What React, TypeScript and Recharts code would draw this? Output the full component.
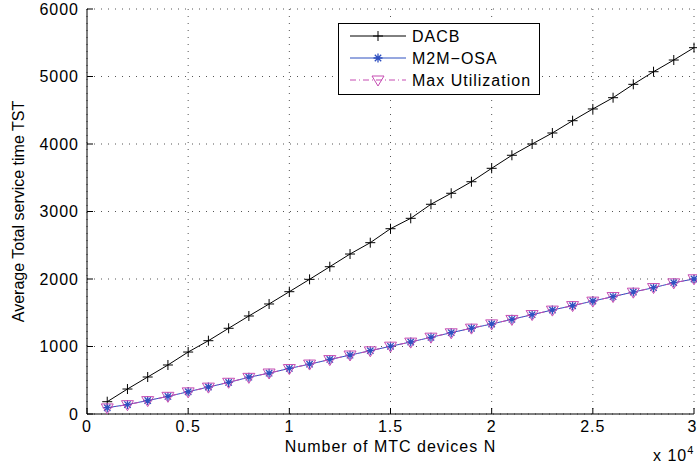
import { LineChart, Line, XAxis, YAxis, CartesianGrid, Legend, Label } from "recharts";

// number of MTC devices, in units of 10^4
const deviceCount = [
  0.1, 0.2, 0.3, 0.4, 0.5, 0.6, 0.7, 0.8, 0.9, 1.0,
  1.1, 1.2, 1.3, 1.4, 1.5, 1.6, 1.7, 1.8, 1.9, 2.0,
  2.1, 2.2, 2.3, 2.4, 2.5, 2.6, 2.7, 2.8, 2.9, 3.0,
];

const dacb = [
  182, 370, 548, 726, 918, 1086, 1270, 1452, 1630, 1812,
  1995, 2182, 2370, 2538, 2745, 2899, 3107, 3270, 3441, 3640,
  3833, 4000, 4163, 4345, 4519, 4686, 4884, 5071, 5244, 5427,
];

const m2mOsa = [
  93, 140, 200, 260, 330, 400, 468, 545, 605, 675,
  738, 808, 872, 938, 1003, 1067, 1136, 1205, 1270, 1333,
  1403, 1471, 1541, 1604, 1674, 1738, 1807, 1871, 1945, 2000,
];

const maxUtilization = [
  90, 138, 198, 262, 328, 398, 470, 543, 607, 673,
  740, 806, 874, 936, 1005, 1065, 1138, 1203, 1272, 1335,
  1401, 1473, 1539, 1606, 1672, 1740, 1805, 1873, 1943, 2003,
];

const xTicks = [0, 0.5, 1, 1.5, 2, 2.5, 3];
const yTicks = [0, 1000, 2000, 3000, 4000, 5000, 6000];

const data = deviceCount.map((n, i) => ({
  n,
  dacb: dacb[i],
  m2m: m2mOsa[i],
  maxUtil: maxUtilization[i],
}));

const BLUE = "#2f50c0";
const MAGENTA = "#c64cb2";

type MarkProps = { cx: number; cy: number; color: string };

const PlusMark = ({ cx, cy, color }: MarkProps) => (
  <path
    d={`M${cx - 5},${cy}H${cx + 5}M${cx},${cy - 5}V${cy + 5}`}
    stroke={color}
    strokeWidth={1}
    fill="none"
  />
);

const StarMark = ({ cx, cy, color }: MarkProps) => (
  <path
    d={`M${cx - 4.5},${cy}H${cx + 4.5}M${cx},${cy - 4.5}V${cy + 4.5}` +
      `M${cx - 3.2},${cy - 3.2}L${cx + 3.2},${cy + 3.2}M${cx - 3.2},${cy + 3.2}L${cx + 3.2},${cy - 3.2}`}
    stroke={color}
    strokeWidth={1.3}
    fill="none"
  />
);

const TriangleMark = ({ cx, cy, color }: MarkProps) => (
  <path
    d={`M${cx - 6},${cy - 4}L${cx + 6},${cy - 4}L${cx},${cy + 6}Z`}
    stroke={color}
    strokeWidth={1}
    fill="none"
  />
);

const series = [
  { key: "dacb", label: "DACB", color: "#000", dash: undefined, Mark: PlusMark },
  { key: "m2m", label: "M2M\u2212OSA", color: BLUE, dash: undefined, Mark: StarMark },
  { key: "maxUtil", label: "Max Utilization", color: MAGENTA, dash: "6 3 1 3", Mark: TriangleMark },
];

const LegendBox = () => (
  <svg width={202} height={72} style={{ display: "block" }}>
    <rect x={0.5} y={0.5} width={201} height={71} fill="#fff" stroke="#000" />
    {series.map((s, i) => {
      const cy = 13 + i * 22;
      const M = s.Mark;
      return (
        <g key={s.key}>
          <line x1={12} x2={68} y1={cy} y2={cy} stroke={s.color} strokeDasharray={s.dash} />
          <M cx={40} cy={cy} color={s.color} />
          <text x={74} y={cy + 6} fontSize={16} fill="#000">
            {s.label}
          </text>
        </g>
      );
    })}
  </svg>
);

const ExponentLabel = (props: any) => {
  const vb = props.viewBox || { x: 87, y: 414, width: 607, height: 52 };
  return (
    <text x={vb.x + vb.width - 41} y={vb.y + 47} fontSize={16} fill="#000">
      x 10
      <tspan dy={-7} fontSize={11}>4</tspan>
    </text>
  );
};

export default function App() {
  return (
    <div
      style={{
        position: "absolute",
        left: 0,
        top: 0,
        background: "#fff",
        fontFamily: "'Liberation Sans', Arial, sans-serif",
        letterSpacing: "1px",
      }}
    >
      <LineChart
        width={697}
        height={466}
        data={data}
        margin={{ top: 9, right: 3, bottom: 0, left: 0 }}
      >
        <CartesianGrid stroke="#555" strokeDasharray="1 6" />
        <XAxis
          dataKey="n"
          type="number"
          domain={[0, 3]}
          ticks={xTicks}
          height={52}
          tickSize={-6}
          tickMargin={13}
          axisLine={{ stroke: "#000" }}
          tickLine={{ stroke: "#000" }}
          tick={{ fill: "#000", fontSize: 16 }}
        >
          <Label value="Number of MTC devices N" position="insideBottom" offset={14} fill="#000" fontSize={16} />
          <Label content={<ExponentLabel />} />
        </XAxis>
        <XAxis
          xAxisId="top"
          orientation="top"
          dataKey="n"
          type="number"
          domain={[0, 3]}
          ticks={xTicks}
          height={0}
          tickSize={-6}
          tickFormatter={() => ""}
          axisLine={{ stroke: "#000" }}
          tickLine={{ stroke: "#000" }}
        />
        <YAxis
          type="number"
          domain={[0, 6000]}
          ticks={yTicks}
          width={87}
          tickSize={-6}
          tickMargin={14}
          axisLine={{ stroke: "#000" }}
          tickLine={{ stroke: "#000" }}
          tick={{ fill: "#000", fontSize: 16 }}
          label={{
            value: "Average Total service time TST",
            angle: -90,
            position: "insideLeft",
            offset: 18,
            fill: "#000",
            fontSize: 16,
            style: { textAnchor: "middle", letterSpacing: 0 },
          }}
        />
        <YAxis
          yAxisId="right"
          orientation="right"
          type="number"
          domain={[0, 6000]}
          ticks={yTicks}
          width={0}
          tickSize={-6}
          tickFormatter={() => ""}
          axisLine={{ stroke: "#000" }}
          tickLine={{ stroke: "#000" }}
        />
        <Legend
          layout="horizontal"
          verticalAlign="middle"
          align="center"
          width={202}
          height={72}
          wrapperStyle={{ left: 338, top: 23, width: 202, height: 72 }}
          content={() => <LegendBox />}
        />
        {series.map((s) => (
          <Line
            key={s.key}
            dataKey={s.key}
            name={s.label}
            type="linear"
            stroke={s.color}
            strokeWidth={1}
            strokeDasharray={s.dash}
            isAnimationActive={false}
            activeDot={false}
            dot={(p: any) => <s.Mark key={`${s.key}-${p.index}`} cx={p.cx} cy={p.cy} color={s.color} />}
          />
        ))}
      </LineChart>
    </div>
  );
}
